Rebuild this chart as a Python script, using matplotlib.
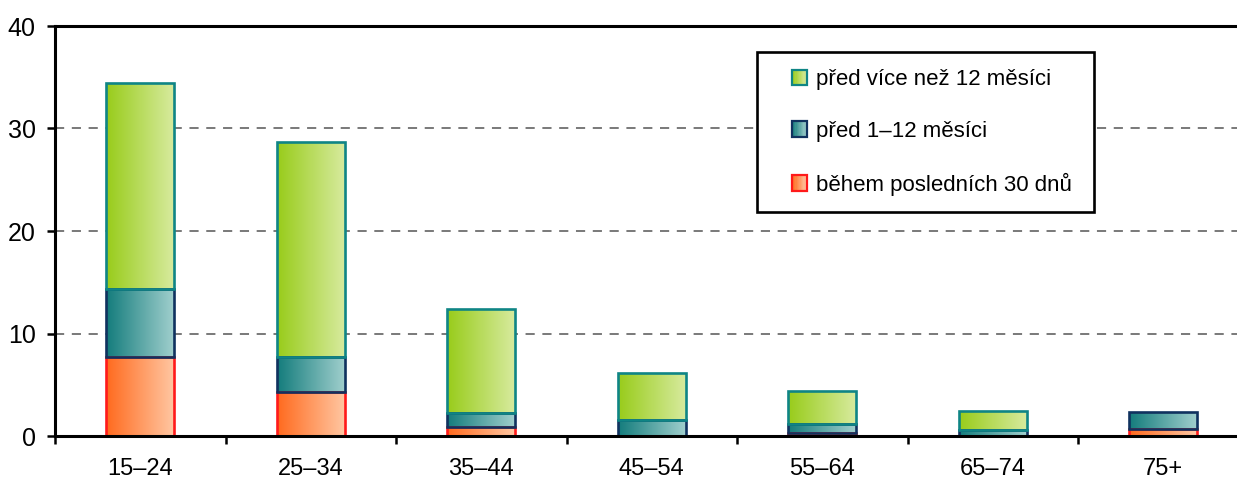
import numpy as np
import matplotlib.pyplot as plt
from matplotlib.patches import Rectangle
from matplotlib.colors import LinearSegmentedColormap
from matplotlib.legend_handler import HandlerBase
from matplotlib.font_manager import fontManager

# data (percent)
categories = ['15–24', '25–34', '35–44', '45–54', '55–64', '65–74', '75+']
last_30_days = [7.7, 4.3, 0.9, 0.0, 0.3, 0.0, 0.65]
months_1_12 = [6.6, 3.4, 1.3, 1.6, 0.9, 0.6, 1.65]
over_12_months = [20.1, 21.0, 10.2, 4.5, 3.2, 1.8, 0.0]

series_labels = ['během posledních 30 dnů', 'před 1–12 měsíci', 'před více než 12 měsíci']

# (gradient start, gradient end, edge)
styles = [
    ('#ff6a1e', '#ffc8a4', '#ff1a1a'),
    ('#137c7c', '#a2d0ce', '#10325f'),
    ('#98cc1a', '#d8eba0', '#0f8585'),
]

names = {f.name for f in fontManager.ttflist}
main_font = 'Liberation Sans Narrow' if 'Liberation Sans Narrow' in names else 'Liberation Sans'
plt.rcParams['font.family'] = [main_font, 'DejaVu Sans']

fig = plt.figure(figsize=(12.37, 4.86), dpi=100)
ax = fig.add_axes([55 / 1237, 50 / 486, 1193.5 / 1237, 410 / 486])

x = np.arange(len(categories))
width = 0.4
grad = np.linspace(0, 1, 256).reshape(1, -1)

bottom = np.zeros(len(categories))
for vals, (c0, c1, ec) in zip([last_30_days, months_1_12, over_12_months], styles):
    cmap = LinearSegmentedColormap.from_list('g', [c0, c1])
    bars = ax.bar(x, vals, width, bottom=bottom, facecolor='none',
                  edgecolor=ec, linewidth=1.9, zorder=4)
    for rect, v in zip(bars, vals):
        if v <= 0:
            rect.set_visible(False)
            continue
        x0, y0 = rect.get_x(), rect.get_y()
        im = ax.imshow(grad, extent=[x0, x0 + rect.get_width(), y0, y0 + rect.get_height()],
                       aspect='auto', cmap=cmap, zorder=3, interpolation='bilinear')
        im.set_clip_path(rect)
    bottom += np.array(vals)

ax.set_xlim(-0.5, len(categories) - 0.5)
ax.set_ylim(0, 40)

# grid
for yv in [10, 20, 30]:
    ax.axhline(yv, color='#555555', linewidth=1.1, dashes=(6, 5), zorder=1)

ax.spines['right'].set_visible(False)
for s in ['left', 'top', 'bottom']:
    ax.spines[s].set_linewidth(2.2)
    ax.spines[s].set_color('black')
ax.spines['bottom'].set_zorder(6)

ax.set_yticks([0, 10, 20, 30, 40])
ax.tick_params(axis='y', length=6, width=1.8, pad=8, labelsize=18)
ax.set_xticks(x)
ax.set_xticklabels(categories)
ax.tick_params(axis='x', which='major', length=0, pad=16, labelsize=17)
ax.set_xticks(np.arange(-0.5, len(categories) - 1), minor=True)
ax.tick_params(axis='x', which='minor', length=6, width=1.8)


class GradientHandler(HandlerBase):
    def __init__(self, c0, c1, ec):
        super().__init__()
        self.c0, self.c1, self.ec = c0, c1, ec

    def create_artists(self, legend, orig_handle, xdescent, ydescent, width, height, fontsize, trans):
        cmap = LinearSegmentedColormap.from_list('g', [self.c0, self.c1])
        side = min(width, height) * 1.0
        x0 = -xdescent + (width - side)
        y0 = -ydescent + (height - side) / 2
        arts = []
        n = 12
        for i in range(n):
            arts.append(Rectangle((x0 + side * i / n, y0), side / n + 0.3, side,
                                  facecolor=cmap(i / (n - 1)), edgecolor='none', transform=trans))
        arts.append(Rectangle((x0, y0), side, side, facecolor='none', edgecolor=self.ec,
                              linewidth=1.6, transform=trans))
        return arts


handles = [Rectangle((0, 0), 1, 1) for _ in range(3)]
handler_map = {h: GradientHandler(*st) for h, st in zip(handles, styles)}
leg = ax.legend(handles[::-1], series_labels[::-1], handler_map=handler_map,
                loc='upper left', bbox_to_anchor=(0.598, 0.937), borderaxespad=0,
                fontsize=16, frameon=False, labelspacing=1.38,
                handlelength=0.95, handletextpad=0.38, borderpad=0.78)
leg.set_zorder(10)

# legend frame drawn separately (wider right margin than matplotlib allows)
ax.add_patch(Rectangle((0.5882, 0.5463), 0.8706 - 0.5882, 0.9366 - 0.5463,
                       transform=ax.transAxes, facecolor='white', edgecolor='black',
                       linewidth=1.9, zorder=9))

fig.savefig('out.png', dpi=100)
